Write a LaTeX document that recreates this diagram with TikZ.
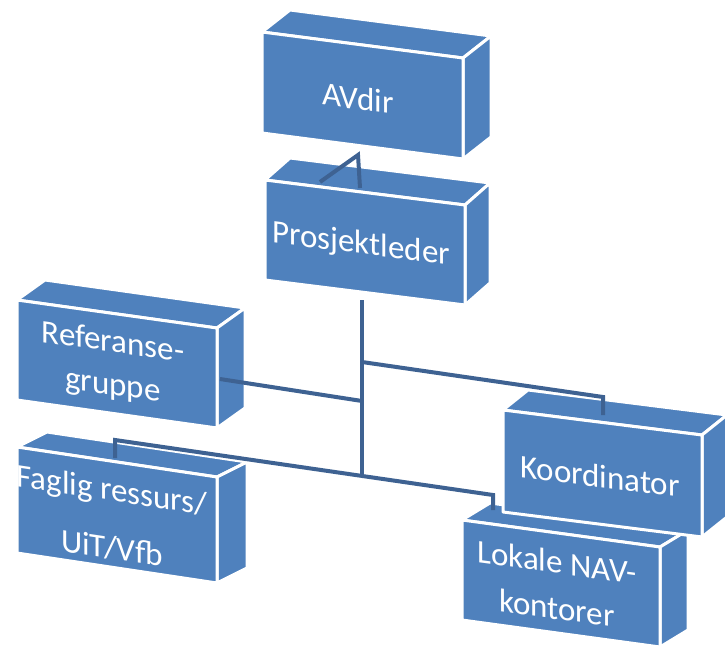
\documentclass[tikz,border=0pt]{standalone}
\usepackage{fontspec}
\setmainfont{Carlito}
\usetikzlibrary{calc}
\definecolor{boxblue}{RGB}{79,129,189}
\definecolor{linkblue}{RGB}{62,98,146}
\tikzset{
  face/.style={fill=boxblue, draw=white, line width=3pt, line join=round},
  link/.style={draw=linkblue, line width=4pt},
  lbl/.style={text=white, align=center, inner sep=0pt}
}
% #1 name, #2 x, #3 y, #4 width, #5 height, #6 slope drop, #7 depth dx, #8 depth dy
\newcommand\cubebox[8]{%
  \coordinate (#1-A) at (#2,#3);
  \coordinate (#1-B) at ($(#1-A)+(#4,#6)$);
  \coordinate (#1-C) at ($(#1-B)+(0,#5)$);
  \coordinate (#1-D) at ($(#1-A)+(0,#5)$);
  \path[face] (#1-A) -- (#1-B) -- ($(#1-B)+(#7,#8)$) -- ($(#1-A)+(#7,#8)$) -- cycle;
  \path[face] (#1-B) -- ($(#1-B)+(#7,#8)$) -- ($(#1-C)+(#7,#8)$) -- (#1-C) -- cycle;
  \path[face] (#1-A) -- (#1-B) -- (#1-C) -- (#1-D) -- cycle;
}
\begin{document}
\begin{tikzpicture}[x=1pt,y=-1pt]
\fill[white] (0,0) rectangle (725,648);
\useasboundingbox (0,0) rectangle (725,648);

% boxes
\cubebox{av}{262}{32}{201}{101}{26}{28}{-22}
\cubebox{pl}{265}{180}{200}{100}{25}{25}{-22}
\cubebox{rf}{17}{300}{200}{100}{28}{28}{-20}
\cubebox{fg}{17}{447}{200}{106}{30}{30}{-15}
\cubebox{lk}{462}{520}{198}{100}{27}{28}{-17}
\cubebox{ko}{503}{410}{199}{102}{25}{25}{-20}

% labels
\node[lbl, yslant=-0.13, font=\fontsize{33}{40}\selectfont] (tav) at (358,98) {AVdir};
\node[lbl, yslant=-0.125, font=\fontsize{33}{40}\selectfont] (tpl) at (361,245) {Prosjektleder};
\node[lbl, yslant=-0.14, font=\fontsize{33}{43}\selectfont] (trf) at (113,365) {Referanse-\\gruppe};
\node[lbl, yslant=-0.15, font=\fontsize{33}{58}\selectfont] (tfg) at (112,519) {Faglig ressurs/\\UiT/Vfb};
\node[lbl, yslant=-0.125, font=\fontsize{33}{40}\selectfont] (tko) at (600,476) {Koordinator};
\node[lbl, yslant=-0.135, font=\fontsize{33}{46}\selectfont] (tlk) at (557,585) {Lokale NAV-\\kontorer};

% connector points
\coordinate (a1) at (358,155);
\coordinate (a2) at (360,188);
\coordinate (a3) at (320,182);
\coordinate (t0) at (362,300);
\coordinate (j1) at (362,362);
\coordinate (j2) at (362,401);
\coordinate (j3) at (362,477);
\coordinate (k1) at (603,397);
\coordinate (k2) at (603,415);
\coordinate (r1) at (220,379);
\coordinate (f1) at (115,458);
\coordinate (f2) at (115,440);
\coordinate (l1) at (493,495);
\coordinate (l2) at (493,510);

% connectors
\draw[link] (a3) -- (a1) -- (a2);
\draw[link] (t0) -- (j3);
\draw[link] (j1) -- (k1) -- (k2);
\draw[link] (j2) -- (r1);
\draw[link] (f1) -- (f2) -- (l1) -- (l2);
\end{tikzpicture}
\end{document}
